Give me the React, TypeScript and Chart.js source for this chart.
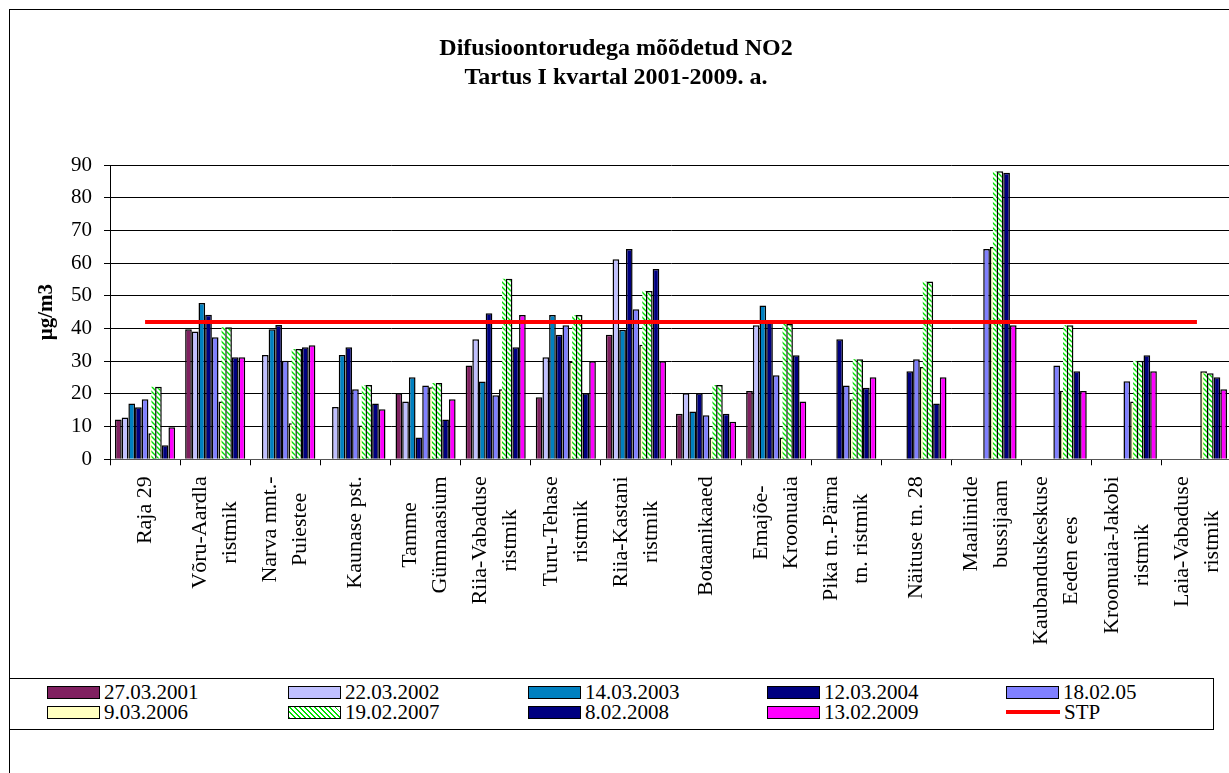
import React, { useEffect, useRef } from "react";
import { Chart, registerables } from "chart.js";

Chart.register(...registerables);

const FONT = '"Liberation Serif", "Times New Roman", serif';

const titleLines = ["Difusioontorudega mõõdetud NO2", "Tartus I kvartal 2001-2009. a."];
const yAxisTitle = "µg/m3";

const categories: (string | string[])[] = [
  "Raja 29",
  ["Võru-Aardla", "ristmik"],
  ["Narva mnt.-", "Puiestee"],
  "Kaunase pst.",
  ["Tamme", "Gümnaasium"],
  ["Riia-Vabaduse", "ristmik"],
  ["Turu-Tehase", "ristmik"],
  ["Riia-Kastani", "ristmik"],
  "Botaanikaaed",
  ["Emajõe-", "Kroonuaia"],
  ["Pika tn.-Pärna", "tn. ristmik"],
  "Näituse tn. 28",
  ["Maaliinide", "bussijaam"],
  ["Kaubanduskeskuse", "Eeden ees"],
  ["Kroonuaia-Jakobi", "ristmik"],
  ["Laia-Vabaduse", "ristmik"],
];

const seriesLabels = [
  "27.03.2001",
  "22.03.2002",
  "14.03.2003",
  "12.03.2004",
  "18.02.05",
  "9.03.2006",
  "19.02.2007",
  "8.02.2008",
  "13.02.2009",
];

const v2001 = [12.2, 39.8, null, null, 20.2, 28.7, 19.0, 38.1, 13.9, 20.9, null, null, null, null, null, null];
const v2002 = [12.8, 39.1, 31.9, 16.0, 17.7, 36.7, 31.2, 61.2, 20.2, 41.0, null, null, null, null, null, null];
const v2003 = [17.1, 47.8, 39.8, 31.9, 25.1, 23.8, 44.1, 39.6, 14.6, 47.0, null, null, null, null, null, null];
const v2004 = [15.9, 44.2, 41.1, 34.3, 6.7, 44.7, 38.1, 64.3, 20.2, 41.9, 36.7, 26.9, null, null, null, null];
const v2005 = [18.4, 37.3, 30.1, 21.4, 22.6, 19.6, 41.0, 45.9, 13.5, 25.7, 22.6, 30.6, 64.3, 28.7, 23.9, null];
const v2006 = [8.0, 17.7, 11.0, 10.3, 22.0, 21.4, 29.9, 35.0, 6.7, 6.7, 18.4, 28.2, 64.9, 21.0, 17.7, 26.9];
const v2007 = [22.2, 40.4, 33.7, 22.7, 23.3, 55.2, 44.1, 51.5, 22.7, 41.4, 30.6, 54.4, 88.1, 41.0, 30.1, 26.3];
const v2008 = [4.3, 31.2, 34.3, 17.1, 12.2, 34.3, 20.2, 58.2, 13.9, 31.8, 21.9, 17.1, 87.6, 26.9, 31.8, 25.1];
const v2009 = [9.8, 31.2, 34.9, 15.3, 18.4, 44.1, 30.0, 30.0, 11.5, 17.7, 25.1, 25.1, 41.0, 20.9, 26.9, 21.4];
const stpLabel = "STP";
const stp = [42, 42, 42, 42, 42, 42, 42, 42, 42, 42, 42, 42, 42, 42, 42, 42];

const seriesValues = [v2001, v2002, v2003, v2004, v2005, v2006, v2007, v2008, v2009];
const seriesColors = ["#802060", "#C0C0FF", "#0080C0", "#000080", "#8080FF", "#FFFFC0", "hatch", "#000080", "#FF00FF"];
const HATCH_INDEX = 6;
const UNDER_HATCH_INDEX = 5;

function makeHatch(ctx: CanvasRenderingContext2D): CanvasPattern | string {
  const c = document.createElement("canvas");
  c.width = 5;
  c.height = 5;
  const p = c.getContext("2d");
  if (!p) return "#ffffff";
  p.fillStyle = "#ffffff";
  p.fillRect(0, 0, 5, 5);
  p.strokeStyle = "#00E000";
  p.lineWidth = 1.4;
  p.beginPath();
  p.moveTo(-1, -1);
  p.lineTo(6, 6);
  p.moveTo(-1, 4);
  p.lineTo(1, 6);
  p.moveTo(4, -1);
  p.lineTo(6, 1);
  p.stroke();
  return ctx.createPattern(c, "repeat") || "#ffffff";
}

// the patterned 2007 bars spill their hatch onto the neighbouring 2006 slot, as in the source picture
function makeSpillPlugin(hatch: CanvasPattern | string) {
  return {
    id: "hatchSpill",
    afterDatasetDraw(chart: any, args: any) {
      if (args.index !== UNDER_HATCH_INDEX) return;
      const meta = chart.getDatasetMeta(HATCH_INDEX);
      const { ctx } = chart;
      ctx.save();
      meta.data.forEach((el: any, i: number) => {
        if (seriesValues[HATCH_INDEX][i] == null) return;
        const w = el.width;
        const left = el.x - w / 2;
        const sw = w * 0.55;
        ctx.fillStyle = hatch;
        ctx.fillRect(left - sw, el.y, sw, el.base - el.y);
      });
      ctx.restore();
    },
  };
}

const xLabelPlugin = {
  id: "xLabelPlugin",
  afterDraw(chart: any) {
    const { ctx, chartArea } = chart;
    const x = chart.scales.x;
    ctx.save();
    ctx.font = `22px ${FONT}`;
    ctx.fillStyle = "#000";
    ctx.textAlign = "center";
    ctx.textBaseline = "middle";
    const lh = 30;
    const top = chartArea.bottom + 17;
    categories.forEach((c, i) => {
      const lines = Array.isArray(c) ? c : [c];
      const xp = x.getPixelForValue(i);
      const maxW = Math.max(...lines.map((l) => ctx.measureText(l).width));
      ctx.save();
      ctx.translate(xp, top + maxW / 2);
      ctx.rotate(-Math.PI / 2);
      lines.forEach((l, j) => {
        ctx.fillText(l, 0, (j - (lines.length - 1) / 2) * lh);
      });
      ctx.restore();
    });
    ctx.restore();
  },
};

const legendCols = [47, 288, 528, 767, 1006];
const legendRows = [692, 712];

function Swatch({ color }: { color: string }) {
  if (color === "line") {
    return (
      <div style={{ width: 54, height: 14, display: "flex", alignItems: "center" }}>
        <div style={{ width: 54, height: 4, background: "#FF0000" }} />
      </div>
    );
  }
  const bg =
    color === "hatch"
      ? "repeating-linear-gradient(45deg, #00E000 0px, #00E000 1.4px, #ffffff 1.4px, #ffffff 3.6px)"
      : color;
  return (
    <div
      style={{
        width: 51,
        height: 11,
        border: "1.5px solid #000",
        background: bg,
      }}
    />
  );
}

export default function App() {
  const canvasRef = useRef<HTMLCanvasElement | null>(null);

  useEffect(() => {
    document.body.style.margin = "0";
    const canvas = canvasRef.current;
    if (!canvas) return;
    const ctx = canvas.getContext("2d");
    if (!ctx) return;
    const hatch = makeHatch(ctx);

    const barSets = seriesValues.map((vals, i) => ({
      type: "bar" as const,
      label: seriesLabels[i],
      data: vals,
      backgroundColor: seriesColors[i] === "hatch" ? hatch : seriesColors[i],
      borderColor: "#000000",
      borderWidth: 1.5,
      categoryPercentage: 0.857,
      barPercentage: 1.0,
      order: 1,
    }));

    const chart = new Chart(ctx, {
      type: "bar",
      data: {
        labels: categories as any,
        datasets: [
          ...barSets,
          {
            type: "line" as const,
            label: stpLabel,
            data: stp,
            borderColor: "#FF0000",
            borderWidth: 4,
            pointRadius: 0,
            fill: false,
            order: 0,
          } as any,
        ],
      },
      options: {
        responsive: false,
        animation: false,
        events: [],
        layout: { padding: { top: 0, right: 8, bottom: 0, left: 0 } },
        plugins: {
          legend: { display: false },
          tooltip: { enabled: false },
          title: {
            display: true,
            text: titleLines,
            color: "#000",
            font: { family: FONT, size: 24, weight: "bold", lineHeight: 1.2 },
            padding: { top: 34.5, bottom: 72.9 },
          },
        },
        scales: {
          x: {
            ticks: { display: false },
            grid: {
              display: true,
              drawOnChartArea: false,
              drawTicks: true,
              tickLength: 6,
              color: "#000",
              offset: true,
            },
            border: { color: "#555", width: 1 },
            afterFit: (s: any) => {
              s.height = 773 - 459.3;
            },
          },
          y: {
            min: 0,
            max: 90,
            ticks: {
              stepSize: 10,
              color: "#000",
              padding: 12,
              font: { family: FONT, size: 21 },
            },
            grid: { color: "#000", lineWidth: 1, tickLength: 6, tickColor: "#000" },
            border: { color: "#000", width: 1 },
            title: {
              display: true,
              text: yAxisTitle,
              color: "#000",
              font: { family: FONT, size: 21, weight: "bold" },
              padding: { top: 34, bottom: 0 },
            },
            afterFit: (s: any) => {
              s.width = 110;
            },
          },
        },
      },
      plugins: [xLabelPlugin, makeSpillPlugin(hatch)],
    });

    return () => {
      chart.destroy();
    };
  }, []);

  const legendItems = [
    ...seriesLabels.map((l, i) => ({ label: l, color: seriesColors[i] })),
    { label: stpLabel, color: "line" },
  ];

  return (
    <div
      style={{
        position: "relative",
        width: 1229,
        height: 773,
        overflow: "hidden",
        background: "#fff",
        fontFamily: FONT,
      }}
    >
      <canvas
        ref={canvasRef}
        width={1240}
        height={773}
        style={{ position: "absolute", left: 0, top: 0, display: "block" }}
      />
      <div
        style={{
          position: "absolute",
          left: 9,
          top: 9,
          width: 1400,
          height: 1000,
          borderLeft: "1px solid #000",
          borderTop: "1px solid #000",
          pointerEvents: "none",
        }}
      />
      <div
        style={{
          position: "absolute",
          left: 9,
          top: 678,
          width: 1205,
          height: 52,
          border: "1px solid #000",
          background: "#fff",
          boxSizing: "border-box",
        }}
      />
      {legendItems.map((it, i) => {
        const col = i % 5;
        const row = Math.floor(i / 5);
        return (
          <div
            key={it.label}
            style={{
              position: "absolute",
              left: legendCols[col],
              top: legendRows[row] - 12,
              height: 24,
              display: "flex",
              alignItems: "center",
              gap: 4,
              fontSize: 21,
              lineHeight: "24px",
              color: "#000",
              whiteSpace: "nowrap",
            }}
          >
            <Swatch color={it.color} />
            <span>{it.label}</span>
          </div>
        );
      })}
    </div>
  );
}
